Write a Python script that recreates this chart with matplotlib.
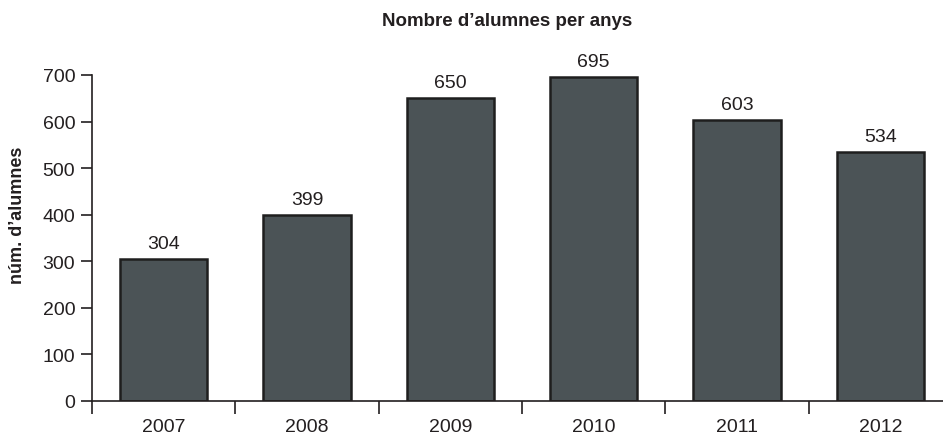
import matplotlib.pyplot as plt
import numpy as np

# data
years = ['2007', '2008', '2009', '2010', '2011', '2012']
alumnes = [304, 399, 650, 695, 603, 534]

plt.rcParams['font.family'] = ['Liberation Sans', 'DejaVu Sans']
txt_col = '#231f20'

fig = plt.figure(figsize=(9.43, 4.39), dpi=100)
# axes runs a bit past the right border, like the original
ax = fig.add_axes([92 / 943, 1 - 402 / 439, 860 / 943, 326 / 439 * 800 / 700])

x = np.arange(len(years))
ax.bar(x, alumnes, width=0.61, color='#4b5356', edgecolor='#1e1e1e', linewidth=1.8, zorder=2)

# value labels
for xi, v in zip(x, alumnes):
    ax.text(xi, v + 16, str(v), ha='center', va='bottom', fontsize=14, color=txt_col)

ax.set_xlim(-0.5, len(years) - 0.5)
ax.set_ylim(0, 800)
ax.set_yticks(range(0, 701, 100))
ax.tick_params(axis='y', length=8, width=1.2, labelsize=14, colors=txt_col, pad=4)

# year labels in the middle, ticks at the boundaries
ax.set_xticks(x)
ax.set_xticklabels(years)
ax.set_xticks(np.arange(-0.5, len(years)), minor=True)
ax.tick_params(axis='x', which='major', length=0, labelsize=14, colors=txt_col, pad=12)
ax.tick_params(axis='x', which='minor', length=9, width=1.2, color=txt_col)

for s in ['top', 'right']:
    ax.spines[s].set_visible(False)
ax.spines['left'].set_bounds(0, 700)
ax.spines['left'].set_linewidth(1.2)
ax.spines['bottom'].set_linewidth(1.2)
ax.spines['left'].set_color(txt_col)
ax.spines['bottom'].set_color(txt_col)

ax.set_ylabel('núm. d\u2019alumnes', fontsize=13, fontweight='bold', color=txt_col, labelpad=12)
fig.text(507 / 943, 1 - 22 / 439, 'Nombre d\u2019alumnes per anys', ha='center', va='center',
         fontsize=13.5, fontweight='bold', color=txt_col)

plt.savefig('out.png', dpi=100)
